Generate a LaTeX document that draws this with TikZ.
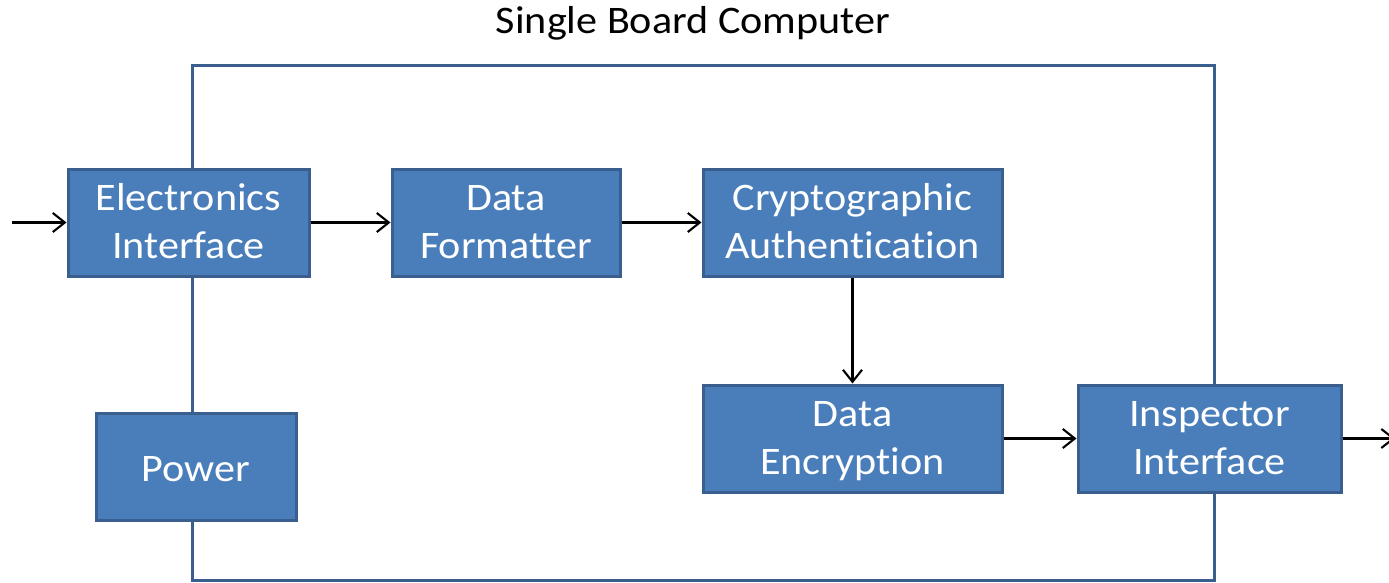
\documentclass[tikz,border=0pt]{standalone}
\usepackage{fontspec}
\setmainfont[Ligatures=NoCommon, FakeStretch=1.08]{Carlito}
\usetikzlibrary{arrows.meta}
\definecolor{boxfill}{HTML}{4A7EBB}
\definecolor{boxedge}{HTML}{3A5F8F}
\tikzset{
  label font/.style={font=\fontsize{39}{48}\selectfont},
  block/.style={draw=boxedge, line width=3pt, fill=boxfill, text=white,
    minimum width=#1, minimum height=107pt, align=center, inner sep=0pt,
    label font, text height=72pt, text depth=0pt},
  oneline/.style={text height=30pt, text depth=0pt},
  link/.style={draw=black, line width=2.1pt,
    -{Straight Barb[length=12pt,width=19pt,line width=2.1pt]}},
  frame/.style={draw=boxedge, line width=3pt}
}
\begin{document}
\begin{tikzpicture}[x=1pt,y=-1pt]
  \useasboundingbox (0,0) rectangle (1389,583);
  % enclosing board outline
  \draw[frame] (192,66) rectangle (1214,580);
  \node[label font, anchor=base] (title) at (693,34) {Single Board Computer};
  % functional blocks
  \node[block=241pt] (elec) at (188.5,222.5) {Electronics\\Interface};
  \node[block=228pt] (fmt) at (506,222.5) {Data\\Formatter};
  \node[block=299pt] (crypt) at (852.5,222.5) {Cryptographic\\Authentication};
  \node[block=200pt, oneline] (pwr) at (196,466.5) {Power};
  \node[block=299pt] (enc) at (852.5,438.5) {Data\\Encryption};
  \node[block=263pt] (insp) at (1209.5,438.5) {Inspector\\Interface};
  % external ends
  \coordinate (in) at (12,222.5);
  \coordinate (out) at (1395,438.5);
  % data flow
  \draw[link] (in) -- (elec.west);
  \draw[link] (elec) -- (fmt);
  \draw[link] (fmt) -- (crypt);
  \draw[link] (crypt) -- (enc);
  \draw[link] (enc) -- (insp);
  \draw[link] (insp.east) -- (out);
\end{tikzpicture}
\end{document}
